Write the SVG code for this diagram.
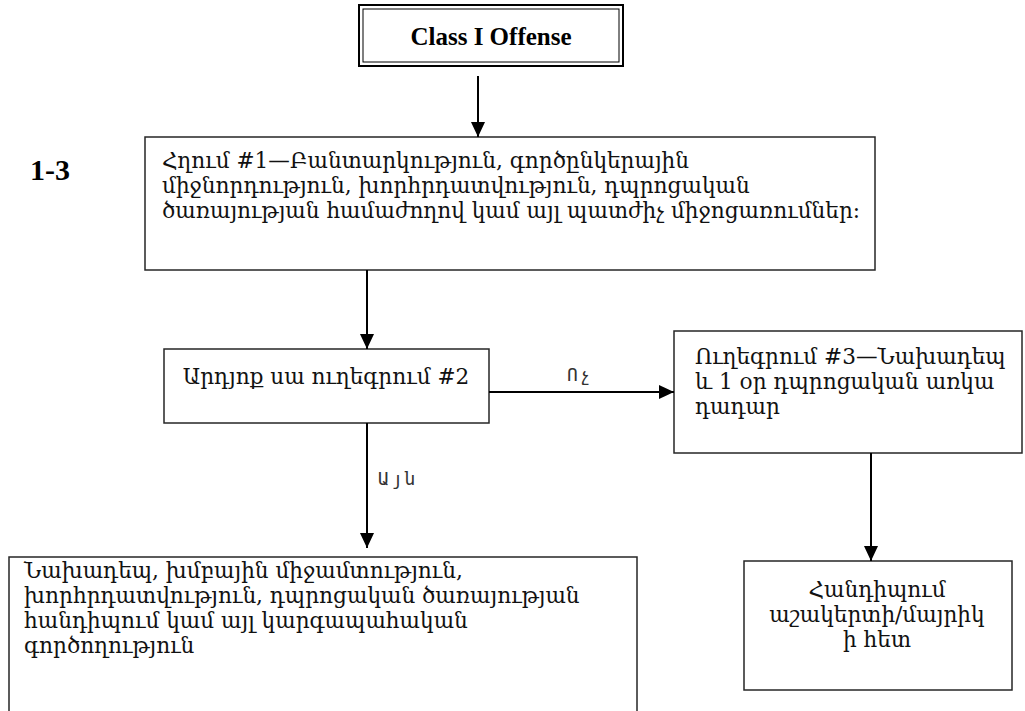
<svg xmlns="http://www.w3.org/2000/svg" width="1025" height="711" viewBox="0 0 1025 711">
<defs>
<style>
.box{fill:#fff;stroke:#262626;stroke-width:1.5}
.t{font-family:"DejaVu Serif",serif;font-size:21.6px;fill:#111}
.lbl{font-family:"DejaVu Sans Mono",monospace;font-size:18px;fill:#333;letter-spacing:2px}
.b{font-family:"Liberation Serif",serif;font-weight:bold;fill:#000}
.c{stroke:#000;stroke-width:2;fill:none}
</style>
<marker id="ah" viewBox="0 0 10 10" refX="10" refY="5" markerWidth="15" markerHeight="14" markerUnits="userSpaceOnUse" orient="auto" preserveAspectRatio="none">
<path d="M0,0 L10,5 L0,10 z" fill="#000"/>
</marker>
</defs>
<rect width="1025" height="711" fill="#fff"/>
<g id="label-1-3"><text class="b" x="30" y="180" font-size="30">1-3</text></g>
<g id="n0">
<rect x="359" y="5" width="264" height="61" fill="#fff" stroke="#000" stroke-width="2"/>
<rect x="363" y="9" width="256" height="53" fill="none" stroke="#000" stroke-width="1"/>
<text class="b" x="491" y="45" font-size="25" text-anchor="middle">Class I Offense</text>
</g>
<g id="n1">
<rect class="box" x="145" y="137" width="730" height="133"/>
<text class="t" x="162" y="168">Հղում #1—Բանտարկություն, գործընկերային</text>
<text class="t" x="162" y="193">միջնորդություն, խորհրդատվություն, դպրոցական</text>
<text class="t" x="162" y="218">ծառայության համաժողով կամ այլ պատժիչ միջոցառումներ:</text>
</g>
<g id="n2">
<rect class="box" x="164" y="349" width="325" height="74"/>
<text class="t" x="326" y="384" text-anchor="middle">Արդյոք սա ուղեգրում #2</text>
</g>
<g id="n3">
<rect class="box" x="674" y="331" width="348" height="122"/>
<text class="t" x="695" y="364">Ուղեգրում #3—Նախադեպ</text>
<text class="t" x="695" y="389">և 1 օր դպրոցական առկա</text>
<text class="t" x="695" y="414">դադար</text>
</g>
<g id="n4">
<rect class="box" x="9" y="557" width="628" height="170"/>
<text class="t" x="24" y="578">Նախադեպ, խմբային միջամտություն,</text>
<text class="t" x="24" y="603">խորհրդատվություն, դպրոցական ծառայության</text>
<text class="t" x="24" y="628">հանդիպում կամ այլ կարգապահական</text>
<text class="t" x="24" y="653">գործողություն</text>
</g>
<g id="n5">
<rect class="box" x="744" y="561" width="268" height="129"/>
<text class="t" x="877" y="597" text-anchor="middle">Հանդիպում</text>
<text class="t" x="877" y="622" text-anchor="middle">աշակերտի/մայրիկ</text>
<text class="t" x="877" y="647" text-anchor="middle">ի հետ</text>
</g>
<g id="connectors">
<line class="c" x1="478" y1="76" x2="478" y2="137" marker-end="url(#ah)"/>
<line class="c" x1="367" y1="270" x2="367" y2="349" marker-end="url(#ah)"/>
<line class="c" x1="489" y1="392" x2="674" y2="392" marker-end="url(#ah)"/>
<line class="c" x1="367" y1="423" x2="367" y2="548" marker-end="url(#ah)"/>
<line class="c" x1="871" y1="453" x2="871" y2="561" marker-end="url(#ah)"/>
<text class="lbl" x="567" y="381">Ոչ</text>
<text class="lbl" x="378" y="485">Այն</text>
</g>
</svg>
